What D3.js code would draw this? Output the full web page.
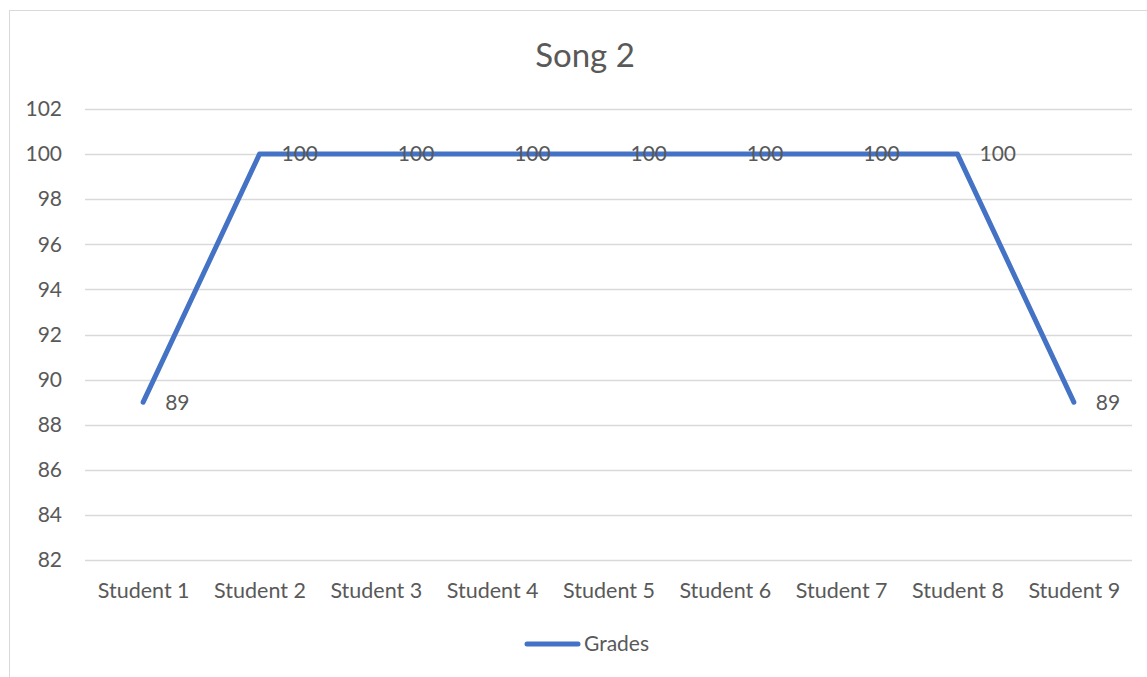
<!DOCTYPE html>
<html>
<head>
<meta charset="utf-8">
<script src="https://cdn.jsdelivr.net/npm/d3@7"></script>
<style>
  html, body { margin: 0; padding: 0; background: #ffffff; }
  svg { display: block; }
  text { font-family: Lato, "Open Sans", sans-serif; fill: #595959; }
</style>
</head>
<body>
<svg id="chart" width="1147" height="677"></svg>
<script>
// Grades per student for "Song 2"
const categories = ["Student 1", "Student 2", "Student 3", "Student 4", "Student 5",
                    "Student 6", "Student 7", "Student 8", "Student 9"];
const grades = [89, 100, 100, 100, 100, 100, 100, 100, 89];
const yTicks = [82, 84, 86, 88, 90, 92, 94, 96, 98, 100, 102];
const seriesName = "Grades";
const chartTitle = "Song 2";

const svg = d3.select("#chart");
const W = 1147, H = 677;
const labelSize = 21.5;

// Chart area frame
svg.append("rect")
  .attr("x", 9.5).attr("y", 10.5)
  .attr("width", W + 20).attr("height", H + 20)
  .attr("fill", "#ffffff")
  .attr("stroke", "#d9d9d9").attr("stroke-width", 1);

const plot = { left: 85, right: 1132, top: 109, bottom: 560 };

const x = d3.scalePoint()
  .domain(categories)
  .range([plot.left, plot.right])
  .padding(0.5);

const y = d3.scaleLinear()
  .domain([82, 102])
  .range([plot.bottom, plot.top]);

// Horizontal gridlines
svg.append("g")
  .selectAll("line")
  .data(yTicks)
  .join("line")
  .attr("x1", plot.left).attr("x2", plot.right)
  .attr("y1", d => Math.round(y(d)) + 0.5).attr("y2", d => Math.round(y(d)) + 0.5)
  .attr("stroke", "#d9d9d9").attr("stroke-width", 1.3);

// Y axis labels
const yAxis = d3.axisLeft(y).tickValues(yTicks).tickSize(0).tickPadding(0);
svg.append("g")
  .attr("transform", `translate(${62},0)`)
  .call(yAxis)
  .call(g => g.select(".domain").remove())
  .call(g => g.selectAll("text")
    .attr("font-size", 21)
    .style("fill", "#595959")
    .attr("font-family", "Lato, 'Open Sans', sans-serif"));

// X axis labels
const xAxis = d3.axisBottom(x).tickSize(0).tickPadding(0);
svg.append("g")
  .attr("transform", `translate(0,${583})`)
  .call(xAxis)
  .call(g => g.select(".domain").remove())
  .call(g => g.selectAll("text")
    .attr("font-size", labelSize)
    .style("fill", "#595959")
    .attr("font-family", "Lato, 'Open Sans', sans-serif"));

// Series line
const line = d3.line()
  .x((d, i) => x(categories[i]))
  .y(d => y(d));

svg.append("path")
  .datum(grades)
  .attr("d", line)
  .attr("fill", "none")
  .attr("stroke", "#4472c4")
  .attr("stroke-width", 5)
  .attr("stroke-linejoin", "round")
  .attr("stroke-linecap", "round");

// Data labels, to the right of each point
svg.append("g")
  .selectAll("text")
  .data(grades)
  .join("text")
  .attr("x", (d, i) => x(categories[i]) + 22)
  .attr("y", d => y(d))
  .attr("dy", "0.35em")
  .attr("font-size", 21)
  .text(d => d);

// Title
svg.append("text")
  .attr("x", 585).attr("y", 55)
  .attr("dy", "0.35em")
  .attr("text-anchor", "middle")
  .attr("font-size", 33)
  .text(chartTitle);

// Legend
const legendY = 644;
svg.append("line")
  .attr("x1", 527).attr("x2", 578)
  .attr("y1", legendY).attr("y2", legendY)
  .attr("stroke", "#4472c4").attr("stroke-width", 5)
  .attr("stroke-linecap", "round");
svg.append("text")
  .attr("x", 584).attr("y", legendY)
  .attr("dy", "0.35em")
  .attr("font-size", 21)
  .text(seriesName);
</script>
</body>
</html>
